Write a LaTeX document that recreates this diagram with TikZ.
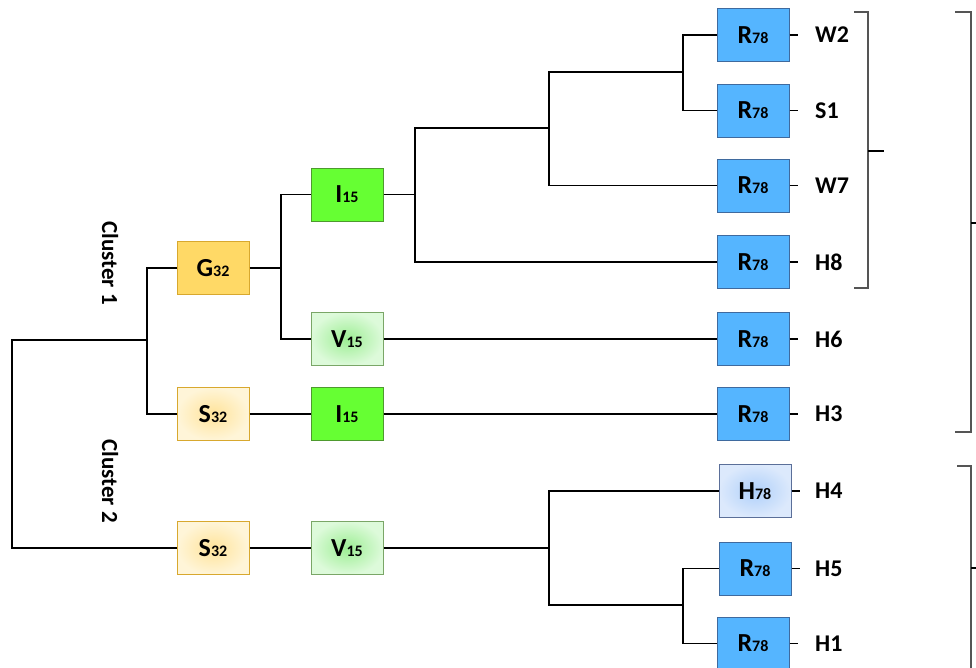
\documentclass[tikz,border=0pt]{standalone}
\usepackage{fontspec}
\setmainfont{Carlito}
\definecolor{rfill}{HTML}{55B5FF}
\definecolor{rdraw}{HTML}{3F6A9E}
\definecolor{ifill}{HTML}{66FF33}
\definecolor{idraw}{HTML}{4E9A2E}
\definecolor{gfill}{HTML}{FFD966}
\definecolor{gdraw}{HTML}{D8A82E}
\definecolor{sin}{HTML}{FFE39A}
\definecolor{sout}{HTML}{FFF5D8}
\definecolor{vin}{HTML}{9CEE93}
\definecolor{vout}{HTML}{DDFADA}
\definecolor{vdraw}{HTML}{7AA667}
\definecolor{hin}{HTML}{AFD0FA}
\definecolor{hout}{HTML}{DCE9FC}
\definecolor{hdraw}{HTML}{5B6F99}
\definecolor{brk}{HTML}{555555}
\newcommand{\bx}[2]{#1{\fontsize{16}{16}\selectfont #2}}
\begin{document}
\begin{tikzpicture}[x=1pt,y=-1pt,
  box/.style={draw, line width=1pt, minimum width=72pt, minimum height=53pt, inner sep=0pt,
    font=\fontsize{26}{26}\selectfont\bfseries},
  rbox/.style={box, fill=rfill, draw=rdraw},
  ibox/.style={box, fill=ifill, draw=idraw},
  gbox/.style={box, fill=gfill, draw=gdraw},
  sbox/.style={box, draw=gdraw, shading=radial, inner color=sin, outer color=sout},
  vbox/.style={box, draw=vdraw, shading=radial, inner color=vin, outer color=vout},
  hbox/.style={box, draw=hdraw, shading=radial, inner color=hin, outer color=hout},
  lbl/.style={anchor=west, inner sep=0pt, font=\fontsize{24}{24}\selectfont\bfseries},
  clu/.style={rotate=-90, inner sep=0pt, font=\fontsize{23}{23}\selectfont\bfseries},
  ln/.style={line width=1.3pt, black},
  bk/.style={line width=1.2pt, brk}]
\useasboundingbox (0,0) rectangle (976,667);

% nodes
\node[gbox] (g32) at (213,268) {\bx{G}{32}};
\node[sbox] (s32a) at (213,414) {\bx{S}{32}};
\node[sbox] (s32b) at (213,548) {\bx{S}{32}};
\node[ibox] (i15a) at (347,194.5) {\bx{I}{15}};
\node[vbox] (v15a) at (347,339) {\bx{V}{15}};
\node[ibox] (i15b) at (347,414) {\bx{I}{15}};
\node[vbox] (v15b) at (347,548) {\bx{V}{15}};

\node[rbox] (r1) at (753,35) {\bx{R}{78}};
\node[rbox] (r2) at (753,110.5) {\bx{R}{78}};
\node[rbox] (r3) at (753,185.5) {\bx{R}{78}};
\node[rbox] (r4) at (753,262) {\bx{R}{78}};
\node[rbox] (r5) at (753,339) {\bx{R}{78}};
\node[rbox] (r6) at (753,414) {\bx{R}{78}};
\node[hbox] (h4) at (755,491) {\bx{H}{78}};
\node[rbox] (r7) at (755,568.5) {\bx{R}{78}};
\node[rbox] (r8) at (753,643.5) {\bx{R}{78}};

\node[lbl] (lw2) at (815,35) {W2};
\node[lbl] (ls1) at (815,110.5) {S1};
\node[lbl] (lw7) at (815,185.5) {W7};
\node[lbl] (lh8) at (815,262) {H8};
\node[lbl] (lh6) at (815,339) {H6};
\node[lbl] (lh3) at (815,414) {H3};
\node[lbl] (lh4) at (815,491) {H4};
\node[lbl] (lh5) at (815,568.5) {H5};
\node[lbl] (lh1) at (815,643.5) {H1};

\node[clu] (cl1) at (110,263) {Cluster 1};
\node[clu] (cl2) at (110,481) {Cluster 2};

% junctions
\coordinate (root) at (12,340);
\coordinate (c1) at (147,340);
\coordinate (c2) at (281,268);
\coordinate (c3) at (415,194.5);
\coordinate (c4) at (549,128);
\coordinate (c5) at (683,72);
\coordinate (c6) at (549,548);
\coordinate (c7) at (683,605);

% tree
\draw[ln] (c1) -- (root) |- (s32b.west);
\draw[ln] (g32.west) -| (c1) |- (s32a.west);
\draw[ln] (g32.east) -- (c2);
\draw[ln] (i15a.west) -| (c2) |- (v15a.west);
\draw[ln] (i15a.east) -- (c3);
\draw[ln] (c4) -| (c3) |- (r4.west);
\draw[ln] (c5) -| (c4) |- (r3.west);
\draw[ln] (r1.west) -| (c5) |- (r2.west);
\draw[ln] (v15a.east) -- (r5.west);
\draw[ln] (s32a.east) -- (i15b.west);
\draw[ln] (i15b.east) -- (r6.west);
\draw[ln] (s32b.east) -- (v15b.west);
\draw[ln] (v15b.east) -- (c6);
\draw[ln] (h4.west) -| (c6) |- (c7);
\draw[ln] (r7.west) -| (c7) |- (r8.west);

% ticks to labels
\foreach \b in {r1,r2,r3,r4,r5,r6,h4,r7,r8}
  \draw[ln] (\b.east) -- ++(8,0);

% brackets
\draw[bk] (854,12) -- (868,12) -- (868,288) -- (854,288);
\draw[ln] (868,151) -- (884,151);
\draw[bk] (955,12) -- (971,12) -- (971,432) -- (955,432);
\draw[ln] (971,223) -- (980,223);
\draw[bk] (957,466) -- (971,466) -- (971,680);
\draw[ln] (971,568) -- (980,568);
\end{tikzpicture}
\end{document}
